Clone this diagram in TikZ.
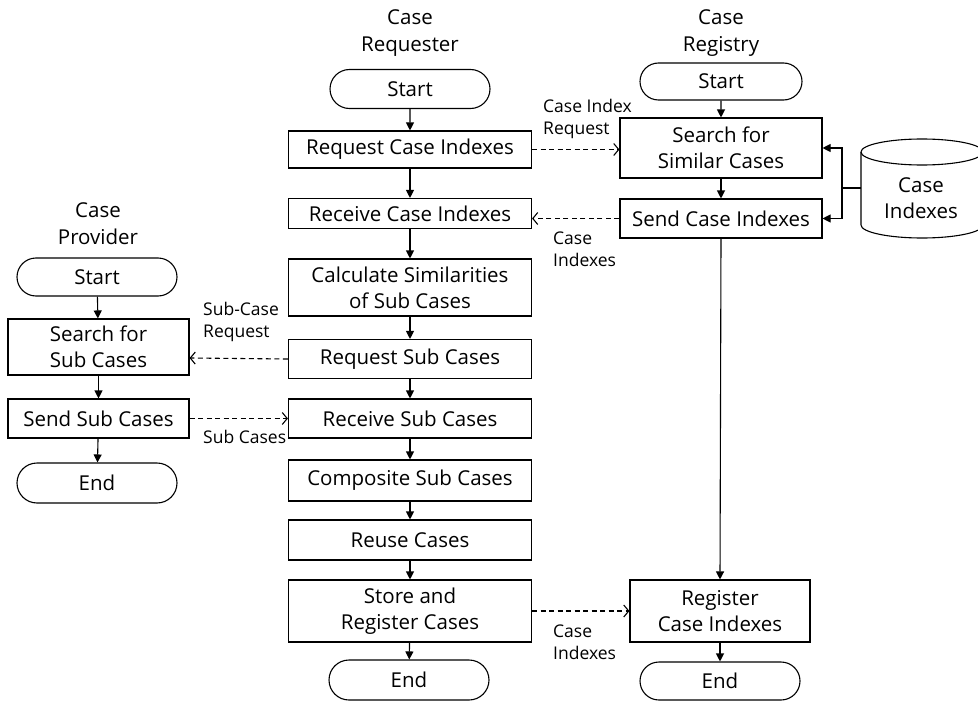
\documentclass[tikz,border=0pt]{standalone}
\usepackage{fontspec}
\setmainfont{Open Sans}
\usetikzlibrary{arrows.meta,shapes.misc}
\begin{document}
\begin{tikzpicture}[x=1pt,y=-1pt,
  every node/.style={font=\fontsize{20.5}{26}\selectfont},
  box/.style={draw,rectangle,align=center,inner sep=0pt,line width=1.1pt},
  term/.style={draw,rounded rectangle,minimum width=160pt,inner sep=0pt,line width=1.1pt},
  title/.style={align=center,inner sep=0pt,font=\fontsize{20.5}{27}\selectfont},
  lbl/.style={align=left,inner sep=0pt,anchor=base west,font=\fontsize{17.5}{22}\selectfont},
  flow/.style={line width=1.1pt,-{Triangle[length=8pt,width=8pt]}},
  msg/.style={line width=1.1pt,dash pattern=on 5pt off 3.5pt,-{Straight Barb[length=5pt,width=12pt,line width=1.1pt]}}
]
\useasboundingbox (0,0) rectangle (978,701);

% ---------- Case Requester ----------
\node[title] (treq) at (410,33) {Case\\Requester};
\node[term,minimum height=39pt] (rs) at (410,89) {Start};
\node[box,minimum width=243pt,minimum height=37pt] (r1) at (410,149.5) {Request Case Indexes};
\node[box,minimum width=243pt,minimum height=30pt] (r2) at (410,213.5) {Receive Case Indexes};
\node[box,minimum width=243pt,minimum height=57pt] (r3) at (410,287.5) {Calculate Similarities\\of Sub Cases};
\node[box,minimum width=243pt,minimum height=39pt] (r4) at (410,359) {Request Sub Cases};
\node[box,minimum width=243pt,minimum height=39pt] (r5) at (410,418.5) {Receive Sub Cases};
\node[box,minimum width=243pt,minimum height=41pt] (r6) at (410,480.5) {Composite Sub Cases};
\node[box,minimum width=243pt,minimum height=40pt] (r7) at (410,540) {Reuse Cases};
\node[box,minimum width=243pt,minimum height=62pt] (r8) at (410,611) {Store and\\Register Cases};
\node[term,minimum height=40pt] (re) at (409,680) {End};

\foreach \a/\b in {rs/r1,r1/r2,r2/r3,r3/r4,r4/r5,r5/r6,r6/r7,r7/r8,r8/re}
  \draw[flow] (\a) -- (\b);

% ---------- Case Registry ----------
\node[title] (treg) at (721,33) {Case\\Registry};
\node[term,minimum width=162pt,minimum height=37pt] (gs) at (721,81.5) {Start};
\node[box,minimum width=202pt,minimum height=60pt] (g1) at (721,148) {Search for\\Similar Cases};
\node[box,minimum width=202pt,minimum height=39pt] (g2) at (721,218.5) {Send Case Indexes};
\node[box,minimum width=180pt,minimum height=62pt] (g3) at (720,611) {Register\\Case Indexes};
\node[term,minimum height=38pt] (ge) at (720,681) {End};

\draw[flow] (gs) -- (g1);
\draw[flow] (g1) -- (g2);
\draw[flow] (g2.south) -- (g3.north);
\draw[flow] (g3) -- (ge);

% case index store (cylinder)
\draw[line width=1.1pt,fill=white]
  (861,152) -- (861,225) arc[start angle=180,end angle=0,x radius=61,y radius=13]
  -- (983,152);
\draw[line width=1.1pt] (922,152) ellipse [x radius=61,y radius=13];
\node[align=center,inner sep=0pt] (db) at (921,198) {Case\\Indexes};
\coordinate (dbw) at (861,188);
\coordinate (bus) at (842,188);
\draw[line width=1.1pt] (dbw) -- (bus);
\draw[flow] (bus) |- (g1.east);
\draw[flow] (bus) |- (g2.east);

% ---------- Case Provider ----------
\node[title] (tpro) at (98,224) {Case\\Provider};
\node[term,minimum height=38pt] (ps) at (97,277) {Start};
\node[box,minimum width=181pt,minimum height=56pt] (p1) at (98.5,347) {Search for\\Sub Cases};
\node[box,minimum width=181pt,minimum height=39pt] (p2) at (98.5,418.5) {Send Sub Cases};
\node[term,minimum height=40pt] (pe) at (97,483) {End};

\draw[flow] (ps) -- (p1);
\draw[flow] (p1) -- (p2);
\draw[flow] (p2) -- (pe);

% ---------- messages between participants ----------
\draw[msg] (r1.east) -- (g1.west |- r1.east);
\draw[msg] (g2.west) -- (r2.east |- g2.west);
\draw[msg] (r4.west) -- ([yshift=-11pt]p1.east);
\draw[msg] (p2.east) -- (r5.west);
\draw[msg] (r8.east) -- (g3.west);

% message labels (anchored at the baseline of their last line)
\node[lbl] (l1) at (543,135) {Case Index\\Request};
\node[lbl] (l2) at (553,266) {Case\\Indexes};
\node[lbl] (l3) at (203,337) {Sub-Case\\Request};
\node[lbl] (l4) at (203,443) {Sub Cases};
\node[lbl] (l5) at (553,659) {Case\\Indexes};
\end{tikzpicture}
\end{document}
